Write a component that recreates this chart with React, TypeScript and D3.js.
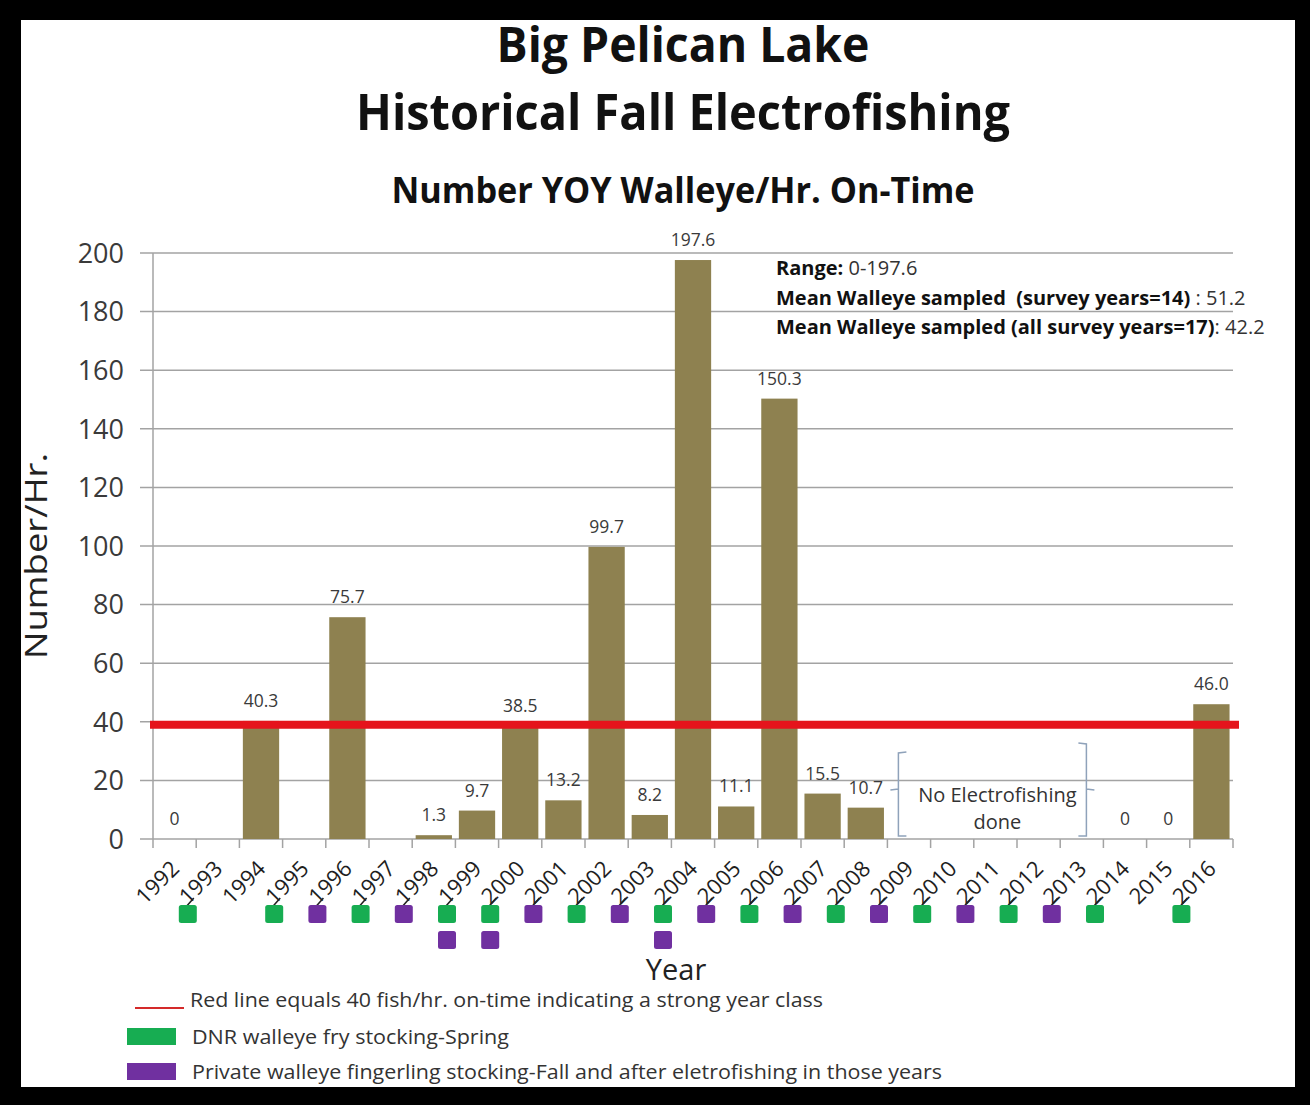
import React, { useRef, useEffect } from "react";
import * as d3 from "d3";

// categories on the x axis
const years = [
  "1992", "1993", "1994", "1995", "1996", "1997", "1998", "1999", "2000",
  "2001", "2002", "2003", "2004", "2005", "2006", "2007", "2008", "2009",
  "2010", "2011", "2012", "2013", "2014", "2015", "2016",
];

// years with a fall electrofishing survey and the YOY walleye/hr found
const surveyYears = [
  "1992", "1994", "1996", "1998", "1999", "2000", "2001", "2002", "2003",
  "2004", "2005", "2006", "2007", "2008", "2014", "2015", "2016",
];
const walleyePerHr = [
  0, 40.3, 75.7, 1.3, 9.7, 38.5, 13.2, 99.7, 8.2, 197.6, 11.1, 150.3, 15.5,
  10.7, 0, 0, 46.0,
];
const valueLabels = [
  "0", "40.3", "75.7", "1.3", "9.7", "38.5", "13.2", "99.7", "8.2", "197.6",
  "11.1", "150.3", "15.5", "10.7", "0", "0", "46.0",
];

const yTicks = [0, 20, 40, 60, 80, 100, 120, 140, 160, 180, 200];

// red "strong year class" line (as drawn, just under 40)
const strongLine = 39;

// stocking markers
const dnrFryYears = [
  "1993", "1995", "1997", "1999", "2000", "2002", "2004", "2006", "2008",
  "2010", "2012", "2014", "2016",
];
const privateFingerlingYears = [
  "1996", "1998", "1999", "2000", "2001", "2003", "2004", "2005", "2007",
  "2009", "2011", "2013",
];

const noSurveyYears = ["2009", "2013"]; // first and last of the gap

const statLines = [
  { bold: "Range:", rest: " 0-197.6" },
  { bold: "Mean Walleye sampled  (survey years=14)", rest: " : 51.2" },
  { bold: "Mean Walleye sampled (all survey years=17)", rest: ": 42.2" },
];

const legendItems = [
  { kind: "line", color: "#d42a2a", label: "Red line equals 40 fish/hr. on-time indicating a strong year class" },
  { kind: "box", color: "#17ad52", label: "DNR walleye fry stocking-Spring" },
  { kind: "box", color: "#7030a0", label: "Private walleye fingerling stocking-Fall and after eletrofishing in those years" },
];

const FONT = "'Open Sans', 'Noto Sans', sans-serif";

export default function App() {
  const svgRef = useRef<SVGSVGElement>(null);

  useEffect(() => {
    if (!svgRef.current) return;
    const svg = d3.select(svgRef.current);
    svg.selectAll("*").remove();

    const width = 1310;
    const height = 1105;
    const plot = { left: 153, right: 1233, top: 253, bottom: 839 };

    // frame
    svg.append("rect").attr("width", width).attr("height", height).attr("fill", "#000");
    svg.append("rect")
      .attr("x", 21).attr("y", 20)
      .attr("width", 1274).attr("height", 1067)
      .attr("fill", "#fff");

    const x = d3.scaleBand<string>()
      .domain(years)
      .range([plot.left, plot.right])
      .padding(0);
    const step = x.step();
    const barInset = step * 0.08;

    const y = d3.scaleLinear()
      .domain([0, 200])
      .range([plot.bottom, plot.top]);

    // titles
    const titles = [
      { text: "Big Pelican Lake", y: 62, size: 48, len: 373 },
      { text: "Historical Fall Electrofishing", y: 130, size: 50, len: 654 },
      { text: "Number YOY Walleye/Hr. On-Time", y: 203, size: 36, len: 583 },
    ];
    svg.selectAll("text.title")
      .data(titles)
      .join("text")
      .attr("class", "title")
      .attr("x", 683)
      .attr("y", d => d.y)
      .attr("text-anchor", "middle")
      .attr("font-family", FONT)
      .attr("font-weight", "bold")
      .attr("font-size", d => d.size)
      .attr("textLength", d => d.len)
      .attr("lengthAdjust", "spacingAndGlyphs")
      .attr("fill", "#111")
      .text(d => d.text);

    // gridlines + y ticks
    svg.append("g")
      .selectAll("line")
      .data(yTicks)
      .join("line")
      .attr("x1", plot.left - 13)
      .attr("x2", plot.right)
      .attr("y1", d => y(d))
      .attr("y2", d => y(d))
      .attr("stroke", "#a3a3a3")
      .attr("stroke-width", 1.5);

    svg.append("line")
      .attr("x1", plot.left).attr("x2", plot.left)
      .attr("y1", plot.top).attr("y2", plot.bottom)
      .attr("stroke", "#a3a3a3").attr("stroke-width", 1.5);

    svg.append("g")
      .selectAll("text")
      .data(yTicks)
      .join("text")
      .attr("x", 124)
      .attr("y", d => y(d))
      .attr("dy", "0.36em")
      .attr("text-anchor", "end")
      .attr("font-family", FONT)
      .attr("font-size", 27)
      .attr("fill", "#3a3a3a")
      .text(d => d);

    // x ticks at category boundaries
    const boundaries = years.map(d => x(d)!).concat([plot.right]);
    svg.append("g")
      .selectAll("line")
      .data(boundaries)
      .join("line")
      .attr("x1", d => d).attr("x2", d => d)
      .attr("y1", plot.bottom).attr("y2", plot.bottom + 9)
      .attr("stroke", "#a3a3a3").attr("stroke-width", 1.5);

    // bars
    svg.append("g")
      .selectAll("rect")
      .data(surveyYears)
      .join("rect")
      .attr("x", d => x(d)! + barInset)
      .attr("width", step - 2 * barInset)
      .attr("y", (d, i) => y(walleyePerHr[i]))
      .attr("height", (d, i) => y(0) - y(walleyePerHr[i]))
      .attr("fill", "#8e8150");

    // value labels
    svg.append("g")
      .selectAll("text")
      .data(surveyYears)
      .join("text")
      .attr("x", d => x(d)! + step / 2)
      .attr("y", (d, i) => y(walleyePerHr[i]) - 14)
      .attr("text-anchor", "middle")
      .attr("font-family", FONT)
      .attr("font-size", 17.5)
      .attr("fill", "#3a3a3a")
      .text((d, i) => valueLabels[i]);

    // strong year class line
    svg.append("line")
      .attr("x1", plot.left - 3)
      .attr("x2", plot.right + 6)
      .attr("y1", y(strongLine))
      .attr("y2", y(strongLine))
      .attr("stroke", "#e5141c")
      .attr("stroke-width", 8);

    // x tick labels
    svg.append("g")
      .selectAll("text")
      .data(years)
      .join("text")
      .attr("transform", d => `translate(${x(d)! + step / 2 + 6},${plot.bottom + 31}) rotate(-45)`)
      .attr("text-anchor", "end")
      .attr("font-family", FONT)
      .attr("font-size", 22)
      .attr("fill", "#1e1e1e")
      .text(d => d);

    // stocking squares
    const markers = [
      ...dnrFryYears.map(d => ({ year: d, row: 0, color: "#17ad52" })),
      ...privateFingerlingYears.map(d => ({
        year: d,
        row: dnrFryYears.includes(d) ? 1 : 0,
        color: "#7030a0",
      })),
    ];
    const sq = 18;
    const markerX = (d: { year: string }) => x(d.year)! + step / 2 - 30;
    const markerY = (d: { row: number }) => 914 + d.row * 26;

    // little pointer from each top-row square up to its year label
    svg.append("g")
      .selectAll("line")
      .data(markers.filter(d => d.row === 0))
      .join("line")
      .attr("x1", d => markerX(d) - 1)
      .attr("y1", d => markerY(d) - sq / 2 + 1)
      .attr("x2", d => markerX(d) + 6)
      .attr("y2", d => markerY(d) - sq / 2 - 7)
      .attr("stroke", "#222")
      .attr("stroke-width", 1.6);

    svg.append("g")
      .selectAll("rect")
      .data(markers)
      .join("rect")
      .attr("x", d => markerX(d) - sq / 2)
      .attr("y", d => markerY(d) - sq / 2)
      .attr("width", sq)
      .attr("height", sq)
      .attr("rx", 2.5)
      .attr("fill", d => d.color);

    // "No Electrofishing done" bracket
    const bx0 = x(noSurveyYears[0])! + 11;
    const bx1 = x(noSurveyYears[1])! + step - 17;
    const bb = plot.bottom - 3;
    const midY = 789;
    const bracket = d3.path();
    bracket.moveTo(bx0 + 8, 752);
    bracket.lineTo(bx0, 753);
    bracket.lineTo(bx0, bb);
    bracket.lineTo(bx0 + 8, bb);
    bracket.moveTo(bx0, midY);
    bracket.lineTo(bx0 - 8, midY + 1);
    bracket.moveTo(bx1 - 8, 743);
    bracket.lineTo(bx1, 744);
    bracket.lineTo(bx1, bb);
    bracket.lineTo(bx1 - 8, bb);
    bracket.moveTo(bx1, midY);
    bracket.lineTo(bx1 + 8, midY + 1);
    svg.append("path")
      .attr("d", bracket.toString())
      .attr("fill", "none")
      .attr("stroke", "#8fa2ba")
      .attr("stroke-width", 1.5);

    const noteX = (bx0 + bx1) / 2 + 5;
    svg.append("text")
      .attr("x", noteX).attr("y", 802)
      .attr("text-anchor", "middle")
      .attr("font-family", FONT).attr("font-size", 20).attr("fill", "#333")
      .text("No Electrofishing");
    svg.append("text")
      .attr("x", noteX).attr("y", 829)
      .attr("text-anchor", "middle")
      .attr("font-family", FONT).attr("font-size", 20).attr("fill", "#333")
      .text("done");

    // summary stats
    const stats = svg.append("g")
      .selectAll("text")
      .data(statLines)
      .join("text")
      .attr("x", 776)
      .attr("y", (d, i) => 275 + i * 29.5)
      .attr("font-family", FONT)
      .attr("font-size", 20)
      .attr("fill", "#111")
      .style("white-space", "pre");
    stats.append("tspan").attr("font-weight", "bold").text(d => d.bold);
    stats.append("tspan").attr("fill", "#333").text(d => d.rest);

    // axis titles
    svg.append("text")
      .attr("x", 676).attr("y", 980)
      .attr("text-anchor", "middle")
      .attr("font-family", FONT).attr("font-size", 29).attr("fill", "#222")
      .text("Year");
    svg.append("text")
      .attr("transform", `translate(47,556) rotate(-90)`)
      .attr("text-anchor", "middle")
      .attr("font-family", FONT).attr("font-size", 31).attr("fill", "#222")
      .attr("textLength", 206)
      .attr("lengthAdjust", "spacingAndGlyphs")
      .text("Number/Hr.");

    // legend
    const legend = svg.append("g")
      .selectAll("g")
      .data(legendItems)
      .join("g")
      .attr("transform", (d, i) => `translate(127,${1000 + i * 35})`);
    legend.filter(d => d.kind === "line")
      .append("line")
      .attr("x1", 8).attr("x2", 57).attr("y1", 8).attr("y2", 8)
      .attr("stroke", d => d.color).attr("stroke-width", 2);
    legend.filter(d => d.kind === "box")
      .append("rect")
      .attr("x", 0).attr("y", -7).attr("width", 49).attr("height", 17)
      .attr("fill", d => d.color);
    legend.append("text")
      .attr("x", (d, i) => (i === 0 ? 63 : 65))
      .attr("y", (d, i) => (i === 0 ? 0 : 2))
      .attr("dy", "0.35em")
      .attr("font-family", FONT)
      .attr("font-size", 20)
      .attr("fill", "#333")
      .attr("textLength", (d, i) => [633, 317, 750][i])
      .attr("lengthAdjust", "spacingAndGlyphs")
      .text(d => d.label);
  }, []);

  return (
    <svg
      ref={svgRef}
      width={1310}
      height={1105}
      viewBox="0 0 1310 1105"
      style={{ position: "absolute", left: 0, top: 0 }}
    />
  );
}
